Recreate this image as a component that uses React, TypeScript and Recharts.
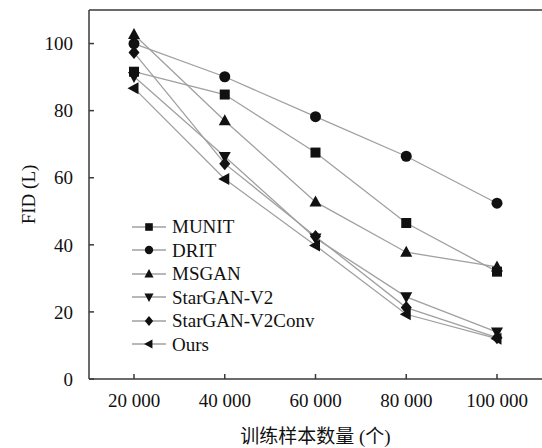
import React from "react";
import { LineChart, Line, XAxis, YAxis, Legend, ReferenceLine } from "recharts";

const samples = ["20 000", "40 000", "60 000", "80 000", "100 000"];
const munit = [91.6, 84.8, 67.5, 46.5, 32];
const drit = [100, 90.1, 78.2, 66.4, 52.4];
const msgan = [102.7, 77, 52.8, 37.8, 33.4];
const starganV2 = [90.2, 66.3, 42, 24.5, 14];
const starganV2Conv = [97.3, 64.2, 42.5, 21.3, 12.3];
const ours = [86.7, 59.6, 39.8, 19.3, 12];
const yTicks = [0, 20, 40, 60, 80, 100];

const series = [
  { key: "MUNIT", values: munit, shape: "square" },
  { key: "DRIT", values: drit, shape: "circle" },
  { key: "MSGAN", values: msgan, shape: "up" },
  { key: "StarGAN-V2", values: starganV2, shape: "down" },
  { key: "StarGAN-V2Conv", values: starganV2Conv, shape: "diamond" },
  { key: "Ours", values: ours, shape: "left" },
];

const data = samples.map((n, i) => {
  const row: any = { n };
  series.forEach((s) => (row[s.key] = s.values[i]));
  return row;
});

const FONT = '"Liberation Serif", "DejaVu Serif", serif';
const CJK = '"Liberation Serif", "Noto Sans CJK SC", serif';
const LINE = "#a0a0a0";
const AXIS = "#3a3a3a";

function Marker({ shape, cx, cy, r }: { shape: string; cx: number; cy: number; r: number }) {
  const f = "#111";
  switch (shape) {
    case "square":
      return <rect x={cx - r} y={cy - r} width={2 * r} height={2 * r} fill={f} />;
    case "circle":
      return <circle cx={cx} cy={cy} r={r * 1.1} fill={f} />;
    case "up":
      return <polygon points={`${cx},${cy - r * 1.3} ${cx + r * 1.2},${cy + r * 0.9} ${cx - r * 1.2},${cy + r * 0.9}`} fill={f} />;
    case "down":
      return <polygon points={`${cx},${cy + r * 1.3} ${cx + r * 1.2},${cy - r * 0.9} ${cx - r * 1.2},${cy - r * 0.9}`} fill={f} />;
    case "diamond":
      return <polygon points={`${cx},${cy - r * 1.3} ${cx + r * 1.1},${cy} ${cx},${cy + r * 1.3} ${cx - r * 1.1},${cy}`} fill={f} />;
    default:
      return <polygon points={`${cx - r * 1.3},${cy} ${cx + r * 0.9},${cy - r * 1.2} ${cx + r * 0.9},${cy + r * 1.2}`} fill={f} />;
  }
}

const renderLegend = () => (
  <div style={{ fontFamily: FONT, fontSize: 19, color: "#111", lineHeight: "23.5px" }}>
    {series.map((s) => (
      <div key={s.key} style={{ display: "flex", alignItems: "center", height: 23.5, overflow: "visible" }}>
        <svg width={36} height={14} style={{ marginRight: 5, flexShrink: 0 }}>
          <line x1={1} y1={7} x2={35} y2={7} stroke={LINE} strokeWidth={1.3} />
          <Marker shape={s.shape} cx={18} cy={7} r={3.8} />
        </svg>
        <span>{s.key}</span>
      </div>
    ))}
  </div>
);

const YLabel = (props: any) => {
  const vb = props.viewBox;
  const cy = vb.y + vb.height / 2;
  return (
    <text x={28} y={cy} transform={`rotate(-90 28 ${cy})`} textAnchor="middle" dominantBaseline="central"
      style={{ fontFamily: FONT, fontSize: 19, fill: "#111" }}>
      FID (L)
    </text>
  );
};

const XLabel = (props: any) => {
  const vb = props.viewBox;
  return (
    <text x={vb.x + vb.width / 2} y={436} textAnchor="middle" dominantBaseline="central"
      style={{ fontFamily: CJK, fontSize: 19, fill: "#111" }}>
      训练样本数量 (个)
    </text>
  );
};

export default function App() {
  return (
    <div style={{ position: "absolute", left: 0, top: 0, background: "#fff" }}>
      <LineChart width={542} height={448} data={data} margin={{ top: 10, right: 0, bottom: 29, left: 0 }}>
        <XAxis
          dataKey="n"
          padding={{ left: 45, right: 45 }}
          height={40}
          stroke={AXIS}
          strokeWidth={1.5}
          tickSize={-5}
          tickMargin={20}
          tick={{ fontFamily: FONT, fontSize: 19, fill: "#111" }}
          label={<XLabel />}
        />
        <YAxis
          domain={[0, 110]}
          ticks={yTicks}
          width={89}
          stroke={AXIS}
          strokeWidth={1.5}
          tickSize={-5}
          tickMargin={21}
          tick={{ fontFamily: FONT, fontSize: 19, fill: "#111" }}
          label={<YLabel />}
        />
        <ReferenceLine y={110} stroke={AXIS} strokeWidth={1.5} />
        {series.map((s) => (
          <Line
            key={s.key}
            dataKey={s.key}
            stroke={LINE}
            strokeWidth={1.3}
            isAnimationActive={false}
            dot={(p: any) => <Marker key={`${s.key}-${p.index}`} shape={s.shape} cx={p.cx} cy={p.cy} r={5} />}
          />
        ))}
        <Legend
          content={renderLegend}
          layout="vertical"
          align="center"
          verticalAlign="middle"
          wrapperStyle={{ left: 131, top: 215, width: 220 }}
        />
      </LineChart>
    </div>
  );
}
